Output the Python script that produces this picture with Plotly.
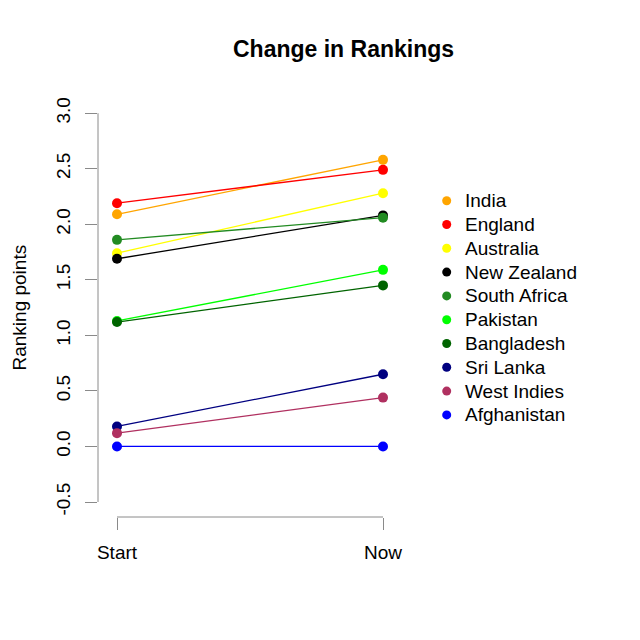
import plotly.graph_objects as go

teams = ["India", "England", "Australia", "New Zealand", "South Africa",
         "Pakistan", "Bangladesh", "Sri Lanka", "West Indies", "Afghanistan"]
start_pts = [2.09, 2.19, 1.74, 1.69, 1.86, 1.13, 1.12, 0.18, 0.12, 0.0]
now_pts = [2.58, 2.49, 2.28, 2.08, 2.06, 1.59, 1.45, 0.65, 0.44, 0.0]
colors = ["#FFA500", "#FF0000", "#FFFF00", "#000000", "#228B22",
          "#00FF00", "#006400", "#000080", "#B03060", "#0000FF"]
x_labels = ["Start", "Now"]
x_vals = [1, 2]
y_ticks = [-0.5, 0.0, 0.5, 1.0, 1.5, 2.0, 2.5, 3.0]

FONT = "Liberation Sans, Arial, sans-serif"
OFF = 8  # page body offset
W, H = 640, 640
ML, MR, MT, MB = 98 - OFF, 238 + OFF, 98 - OFF, 123 + OFF
PW, PH = W - ML - MR, H - MT - MB
AX = "#8a8a8a"

def px_x(p):
    return (p - OFF - ML) / PW

def px_y(p):
    return (H - MB - (p - OFF)) / PH

fig = go.Figure()
for name, s, n, c in zip(teams, start_pts, now_pts, colors):
    fig.add_trace(go.Scatter(
        x=x_vals, y=[s, n], mode="lines+markers", name=name,
        line=dict(color=c, width=1.3),
        marker=dict(color=c, size=10),
        showlegend=False, hoverinfo="skip"))

shapes = [
    dict(type="line", xref="paper", yref="y", x0=0, x1=0,
         y0=min(y_ticks), y1=max(y_ticks), line=dict(color=AX, width=1)),
    dict(type="line", xref="x", yref="paper", x0=x_vals[0], x1=x_vals[-1],
         y0=0, y1=0, line=dict(color=AX, width=1)),
]
annotations = [
    dict(text="<b>Change in Rankings</b>", xref="paper", yref="paper",
         x=px_x(343.5), y=px_y(49), xanchor="center", yanchor="middle",
         showarrow=False, font=dict(family=FONT, size=23, color="black")),
    dict(text="Ranking points", xref="paper", yref="paper",
         x=px_x(19), y=0.5, xanchor="center", yanchor="middle",
         textangle=-90, showarrow=False, borderpad=0,
         font=dict(family=FONT, size=19, color="black")),
]

leg_top, leg_step = 200.7, 23.8
for i, (name, c) in enumerate(zip(teams, colors)):
    yy = px_y(leg_top + i * leg_step)
    shapes.append(dict(type="circle", xref="paper", yref="paper",
                       xsizemode="pixel", ysizemode="pixel",
                       xanchor=px_x(446.7), yanchor=yy,
                       x0=-4.5, x1=4.5, y0=-4.5, y1=4.5,
                       fillcolor=c, line=dict(color=c, width=0)))
    annotations.append(dict(text=name, xref="paper", yref="paper",
                            x=px_x(463), y=yy, xanchor="left", yanchor="middle",
                            showarrow=False,
                            font=dict(family=FONT, size=19, color="black")))

fig.update_layout(
    width=W, height=H,
    margin=dict(l=ML, r=MR, t=MT, b=MB),
    paper_bgcolor="white", plot_bgcolor="white",
    showlegend=False,
    font=dict(family=FONT, size=19, color="black"),
    xaxis=dict(range=[1 - 19 / 266, 2 + 19 / 266], tickvals=x_vals,
               ticktext=x_labels, ticks="outside", ticklen=12,
               tickcolor=AX, tickwidth=1, showgrid=False, zeroline=False,
               showline=False, ticklabelstandoff=6,
               tickfont=dict(family=FONT, size=19, color="black")),
    yaxis=dict(range=[-0.635, 3.137], tickvals=y_ticks,
               ticktext=[f"{v:.1f}" for v in y_ticks],
               ticks="outside", ticklen=12, tickcolor=AX, tickwidth=1,
               tickangle=-90, showgrid=False, zeroline=False, showline=False,
               ticklabelstandoff=7,
               tickfont=dict(family=FONT, size=19, color="black")),
    shapes=shapes, annotations=annotations,
)

fig.write_html("out.html")
